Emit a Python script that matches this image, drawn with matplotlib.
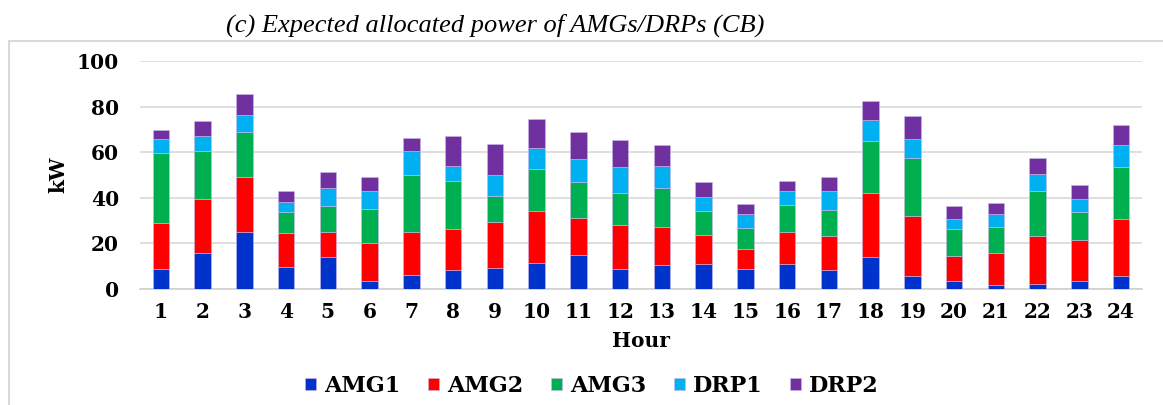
import numpy as np
import matplotlib.pyplot as plt
from matplotlib.patches import Rectangle

# cumulative tops, turned into segment sizes below
hours = list(range(1, 25))
amg1 = [8.8, 15.6, 24.8, 9.8, 14.0, 3.6, 6.3, 8.2, 9.3, 11.5, 15.0, 8.8,
        10.4, 11.1, 8.8, 11.1, 8.2, 14.0, 5.8, 3.6, 1.8, 2.3, 3.6, 5.8]
amg2 = [20.1, 23.8, 24.4, 14.6, 10.8, 16.7, 18.5, 17.9, 20.2, 22.7, 16.2, 19.1,
        16.8, 12.7, 8.6, 13.7, 15.0, 28.2, 26.0, 11.0, 14.0, 20.9, 17.9, 24.9]
amg3 = [30.7, 21.2, 19.7, 9.2, 11.7, 14.9, 25.0, 21.3, 11.5, 18.5, 15.7, 14.3,
        17.3, 10.4, 9.2, 12.1, 11.5, 22.6, 25.6, 11.5, 11.4, 19.6, 12.1, 22.6]
drp1 = [6.4, 6.6, 7.5, 4.5, 8.0, 7.6, 10.9, 6.5, 8.8, 9.2, 9.9, 11.1,
        9.4, 6.2, 6.4, 5.9, 8.1, 9.2, 8.6, 4.6, 5.8, 7.6, 5.8, 9.8]
drp2 = [3.6, 6.4, 9.3, 4.7, 6.9, 6.3, 5.7, 13.1, 13.7, 12.7, 12.1, 12.1,
        9.2, 6.5, 4.1, 4.5, 6.3, 8.6, 9.8, 5.8, 4.7, 7.0, 6.3, 8.7]

series = [("AMG1", amg1, "#0033CC"), ("AMG2", amg2, "#FF0000"),
          ("AMG3", amg3, "#00B050"), ("DRP1", drp1, "#00B0F0"),
          ("DRP2", drp2, "#7030A0")]

wide = "DejaVu Serif"       # the labels in the picture look stretched
serif = "Liberation Serif"

fig = plt.figure(figsize=(11.63, 4.05), dpi=100)
ax = fig.add_axes([140 / 1163, 1 - 289 / 405, 1002 / 1163, 228 / 405])

bottom = np.zeros(len(hours))
for name, vals, col in series:
    ax.bar(hours, vals, width=0.39, bottom=bottom, color=col, label=name,
           edgecolor="#c9b8e8", linewidth=0.4, zorder=3)
    bottom += np.array(vals)

ax.set_xlim(0.5, 24.5)
ax.set_ylim(0, 100)
ax.set_yticks(range(0, 101, 20))
ax.set_xticks(hours)
ax.yaxis.grid(True, color="#d9d9d9", linewidth=1.2, zorder=0)
for s in ["top", "right", "left"]:
    ax.spines[s].set_visible(False)
ax.spines["bottom"].set_color("#d0d0d0")
ax.spines["bottom"].set_linewidth(1.2)
ax.tick_params(length=0, labelsize=14.5, pad=9)
ax.tick_params(axis="y", pad=15)
for lab in ax.get_xticklabels() + ax.get_yticklabels():
    lab.set_fontfamily(wide)
    lab.set_fontweight("bold")

ax.set_ylabel("kW", fontfamily=wide, fontweight="bold", fontsize=14.5, labelpad=6)
ax.set_xlabel("Hour", fontfamily=wide, fontweight="bold", fontsize=14.5, labelpad=7)

fig.legend(loc="center", bbox_to_anchor=(592 / 1163, 1 - 386 / 405), ncol=5,
           frameon=False, handlelength=0.5, handleheight=0.5, handletextpad=0.35,
           columnspacing=1.25, prop={"family": wide, "weight": "bold", "size": 16})

fig.text(495 / 1163, 1 - 25 / 405, "(c) Expected allocated power of AMGs/DRPs (CB)",
         ha="center", va="center", fontfamily=serif, fontstyle="italic", fontsize=19)

fig.add_artist(Rectangle((9 / 1163, -0.05), 1.0, 1 - 41 / 405 + 0.05,
                         transform=fig.transFigure, fill=False,
                         edgecolor="#d9d9d9", linewidth=1.5))

fig.savefig("out.png", dpi=100)
